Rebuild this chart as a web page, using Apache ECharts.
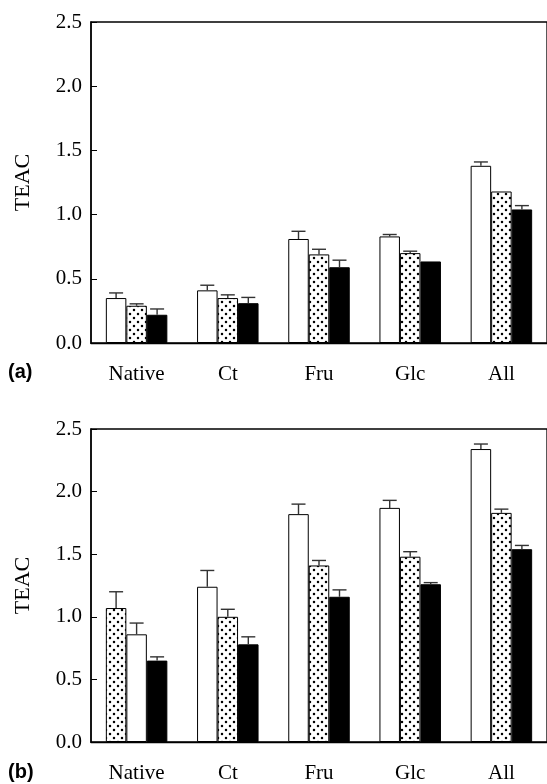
<!DOCTYPE html>
<html>
<head>
<meta charset="utf-8">
<script src="https://cdn.jsdelivr.net/npm/echarts@6/dist/echarts.min.js"></script>
<style>
  html, body { margin: 0; padding: 0; background: #fff; }
  #chart { width: 547px; height: 784px; }
</style>
</head>
<body>
<div id="chart"></div>
<script>
// groups on the x axis
const categories = ['Native', 'Ct', 'Fru', 'Glc', 'All'];

// panel (a): left / middle / right bar of each group
const aLeft = [0.35, 0.41, 0.81, 0.83, 1.38];
const aLeftErr = [0.04, 0.04, 0.06, 0.015, 0.03];
const aMid = [0.29, 0.35, 0.69, 0.70, 1.18];
const aMidErr = [0.015, 0.025, 0.04, 0.015, 0];
const aRight = [0.22, 0.31, 0.59, 0.635, 1.04];
const aRightErr = [0.045, 0.045, 0.055, 0, 0.03];
const aLeftFill = ['white', 'white', 'white', 'white', 'white'];
const aMidFill = ['dot', 'dot', 'dot', 'dot', 'dot'];
const aRightFill = ['black', 'black', 'black', 'black', 'black'];

// panel (b)
const bLeft = [1.07, 1.24, 1.82, 1.87, 2.34];
const bLeftErr = [0.13, 0.13, 0.08, 0.06, 0.04];
const bMid = [0.86, 1.00, 1.41, 1.48, 1.83];
const bMidErr = [0.09, 0.06, 0.04, 0.04, 0.03];
const bRight = [0.65, 0.78, 1.16, 1.26, 1.54];
const bRightErr = [0.03, 0.06, 0.055, 0.013, 0.03];
const bLeftFill = ['dot', 'white', 'white', 'white', 'white'];
const bMidFill = ['white', 'dot', 'dot', 'dot', 'dot'];
const bRightFill = ['black', 'black', 'black', 'black', 'black'];

const yMin = 0, yMax = 2.5, yStep = 0.5;

const serif = 'Liberation Serif';
const barW = 20.5;

// dotted fill tile
function dotTile() {
  const c = document.createElement('canvas');
  c.width = 8; c.height = 8;
  const g = c.getContext('2d');
  g.fillStyle = '#fff';
  g.fillRect(0, 0, 8, 8);
  g.fillStyle = '#000';
  g.beginPath(); g.arc(2, 2, 1.25, 0, Math.PI * 2); g.fill();
  g.beginPath(); g.arc(6, 6, 1.25, 0, Math.PI * 2); g.fill();
  return c;
}
const fills = {
  white: { color: '#fff', borderColor: '#000', borderWidth: 1 },
  dot: { color: { image: dotTile(), repeat: 'repeat' }, borderColor: '#000', borderWidth: 1 },
  black: { color: '#000', borderColor: '#000', borderWidth: 1 }
};

function barSeries(vals, fillNames, idx) {
  return {
    type: 'bar',
    xAxisIndex: idx, yAxisIndex: idx,
    barWidth: barW,
    barGap: '0%',
    silent: true,
    data: vals.map((v, i) => ({ value: v, itemStyle: fills[fillNames[i]] }))
  };
}

function errSeries(groups, idx) {
  const data = [];
  groups.forEach(([vals, errs], pos) => {
    vals.forEach((v, i) => data.push([i, v, errs[i], pos]));
  });
  return {
    type: 'custom',
    xAxisIndex: idx, yAxisIndex: idx,
    z: 5,
    silent: true,
    encode: { x: 0, y: 1 },
    data: data,
    renderItem: function (params, api) {
      const cat = api.value(0), val = api.value(1), err = api.value(2), pos = api.value(3);
      if (!err) return null;
      const base = api.coord([cat, val]);
      const top = api.coord([cat, val + err]);
      const x = base[0] + (pos - 1) * barW;
      const st = { stroke: '#333', lineWidth: 1.4 };
      return {
        type: 'group',
        children: [
          { type: 'line', shape: { x1: x, y1: base[1], x2: x, y2: top[1] }, style: st },
          { type: 'line', shape: { x1: x - 7, y1: top[1], x2: x + 7, y2: top[1] }, style: st }
        ]
      };
    }
  };
}

function xAxisFor(idx) {
  return {
    type: 'category',
    gridIndex: idx,
    data: categories,
    axisLine: { lineStyle: { color: '#000', width: 1.3 } },
    axisTick: { inside: true, length: 6, lineStyle: { color: '#000' } },
    axisLabel: { color: '#000', fontFamily: serif, fontSize: 21, margin: 21 }
  };
}

function yAxisFor(idx) {
  return {
    type: 'value',
    gridIndex: idx,
    min: yMin, max: yMax, interval: yStep,
    name: 'TEAC',
    nameLocation: 'middle',
    nameGap: 57,
    nameTextStyle: { color: '#000', fontFamily: serif, fontSize: 22 },
    splitLine: { show: false },
    axisLine: { show: true, lineStyle: { color: '#000', width: 1.5 } },
    axisTick: { show: true, inside: true, length: 6, lineStyle: { color: '#000' } },
    axisLabel: { color: '#000', fontFamily: serif, fontSize: 21, margin: 9,
      formatter: v => v.toFixed(1) }
  };
}

const chart = echarts.init(document.getElementById('chart'), null, { renderer: 'canvas' });
chart.setOption({
  backgroundColor: '#fff',
  animation: false,
  grid: [
    { left: 91, top: 22, width: 467, height: 321, show: true, borderColor: '#000', borderWidth: 1.3, backgroundColor: 'transparent' },
    { left: 91, top: 429, width: 467, height: 321, show: true, borderColor: '#000', borderWidth: 1.3, backgroundColor: 'transparent' }
  ],
  xAxis: [xAxisFor(0), xAxisFor(1)],
  yAxis: [yAxisFor(0), yAxisFor(1)],
  graphic: [
    { type: 'text', left: 8, top: 362, style: { text: '(a)', font: 'bold 20px "Liberation Sans"', fill: '#000' } },
    { type: 'text', left: 8, top: 762, style: { text: '(b)', font: 'bold 20px "Liberation Sans"', fill: '#000' } }
  ],
  series: [
    barSeries(aLeft, aLeftFill, 0),
    barSeries(aMid, aMidFill, 0),
    barSeries(aRight, aRightFill, 0),
    errSeries([[aLeft, aLeftErr], [aMid, aMidErr], [aRight, aRightErr]], 0),
    barSeries(bLeft, bLeftFill, 1),
    barSeries(bMid, bMidFill, 1),
    barSeries(bRight, bRightFill, 1),
    errSeries([[bLeft, bLeftErr], [bMid, bMidErr], [bRight, bRightErr]], 1)
  ]
});
</script>
</body>
</html>
